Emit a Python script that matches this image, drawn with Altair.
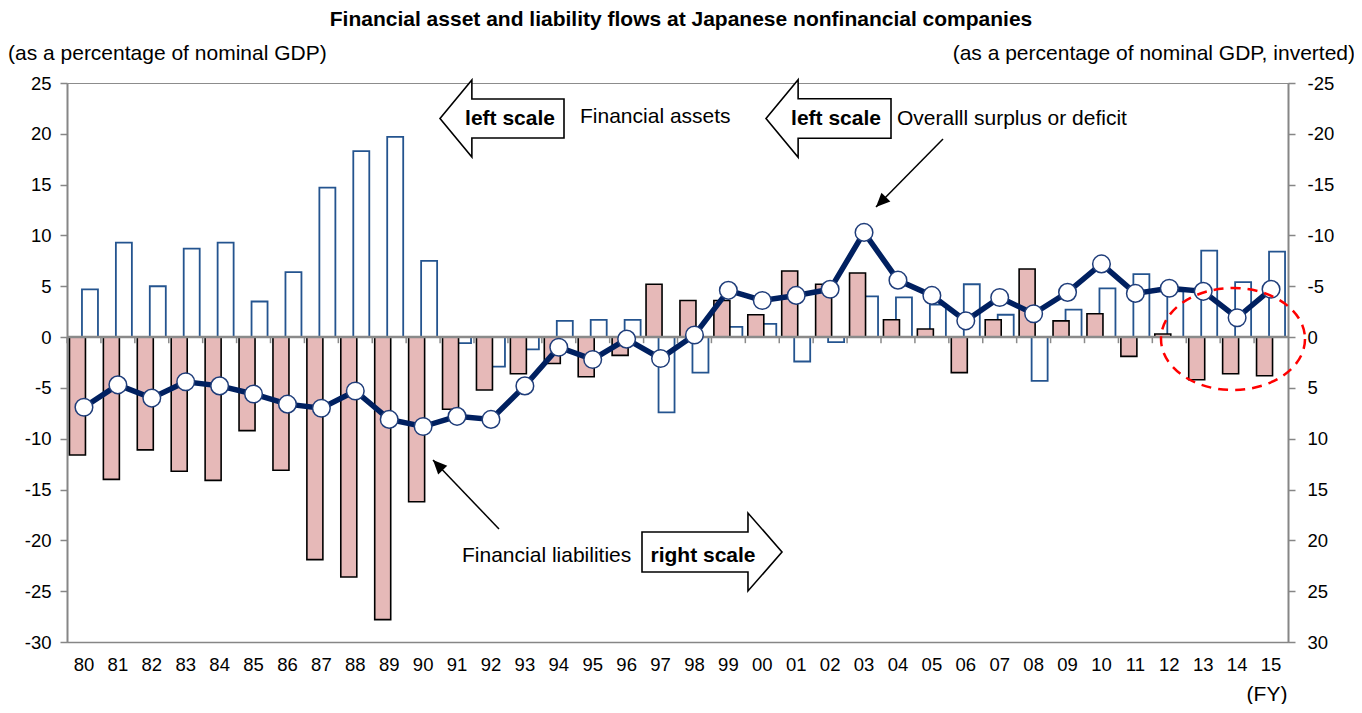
import altair as alt
import pandas as pd

# ---------------- data ----------------
years = ["80", "81", "82", "83", "84", "85", "86", "87", "88", "89",
         "90", "91", "92", "93", "94", "95", "96", "97", "98", "99",
         "00", "01", "02", "03", "04", "05", "06", "07", "08", "09",
         "10", "11", "12", "13", "14", "15"]

# Financial assets, % of nominal GDP (left scale)
assets = [4.7, 9.3, 5.0, 8.7, 9.3, 3.5, 6.4, 14.7, 18.3, 19.7,
          7.5, -0.6, -2.9, -1.2, 1.6, 1.7, 1.7, -7.4, -3.5, 1.0,
          1.3, -2.4, -0.5, 4.0, 3.9, 3.2, 5.2, 2.2, -4.3, 2.7,
          4.8, 6.2, 4.5, 8.5, 5.4, 8.4]

# Financial liabilities, % of nominal GDP (right scale, inverted)
liabilities = [11.6, 14.0, 11.1, 13.2, 14.1, 9.2, 13.1, 21.9, 23.6, 27.8,
               16.2, 7.1, 5.2, 3.6, 2.6, 3.9, 1.8, -5.2, -3.6, -3.6,
               -2.2, -6.5, -5.2, -6.3, -1.7, -0.8, 3.5, -1.7, -6.7, -1.6,
               -2.3, 1.9, -0.3, 4.2, 3.6, 3.8]

# Overall surplus or deficit (left scale)
surplus = [-6.9, -4.7, -6.0, -4.4, -4.8, -5.6, -6.6, -7.0, -5.3, -8.1,
           -8.8, -7.8, -8.1, -4.8, -1.0, -2.2, -0.2, -2.1, 0.2, 4.6,
           3.6, 4.1, 4.7, 10.3, 5.6, 4.1, 1.6, 3.9, 2.3, 4.4,
           7.2, 4.3, 4.8, 4.5, 1.9, 4.7]

left_ticks = [-30, -25, -20, -15, -10, -5, 0, 5, 10, 15, 20, 25]
right_ticks = [-25, -20, -15, -10, -5, 0, 5, 10, 15, 20, 25, 30]

df = pd.DataFrame({"year": years, "assets": assets,
                   "liabilities": liabilities, "surplus": surplus})

FONT = "Liberation Sans"
W, H = 1221, 559

xenc = alt.X("year:N", sort=years,
             scale=alt.Scale(domain=years, paddingInner=0, paddingOuter=0),
             axis=alt.Axis(orient="bottom", title=None, labelAngle=0, ticks=False,
                           labelPadding=13, labelFontSize=18.5, labelFont=FONT,
                           labelColor="black", domainColor="#868686", domainWidth=1.5))

left_scale = alt.Scale(domain=[-30, 25], nice=False)
right_scale = alt.Scale(domain=[-25, 30], nice=False, reverse=True)

base = alt.Chart(df)

blue_bars = base.mark_bar(width=16, xOffset=6, fill="white", stroke="#24548F",
                          strokeWidth=1.8).encode(
    x=xenc,
    y=alt.Y("assets:Q", scale=left_scale,
            axis=alt.Axis(orient="left", values=left_ticks, title=None, grid=False,
                          tickSize=7, tickColor="#868686", tickWidth=1.5,
                          domainColor="#868686", domainWidth=2, labelPadding=9,
                          labelExpr="'' + datum.value",
                          labelFontSize=18.5, labelFont=FONT, labelColor="black")),
)

pink_bars = base.mark_bar(width=16, xOffset=-6.5, fill="#E6B9B8", stroke="black",
                          strokeWidth=1.6).encode(
    x=alt.X("year:N", sort=years),
    y=alt.Y("liabilities:Q", scale=right_scale,
            axis=alt.Axis(orient="right", values=right_ticks, title=None, grid=False,
                          tickSize=7, tickColor="#868686", tickWidth=1.5,
                          domainColor="#868686", domainWidth=2, labelPadding=12,
                          labelExpr="'' + datum.value",
                          labelFontSize=18.5, labelFont=FONT, labelColor="black")),
)

zero_df = pd.DataFrame({"zero": [0]})
zero_line = alt.Chart(zero_df).mark_rule(color="#8a8a8a", strokeWidth=2.5).encode(
    y=alt.Y("zero:Q", scale=left_scale, axis=None)
)

tick_df = pd.DataFrame({"year": years, "y0": [0] * len(years), "y1": [-0.6] * len(years)})
zero_ticks = alt.Chart(tick_df).mark_rule(color="#8a8a8a", strokeWidth=1.5).encode(
    x=alt.X("year:N", sort=years, bandPosition=0),
    y=alt.Y("y0:Q", scale=left_scale, axis=None),
    y2="y1:Q",
)

line = base.mark_line(color="#002060", strokeWidth=5.5).encode(
    x=alt.X("year:N", sort=years),
    y=alt.Y("surplus:Q", scale=left_scale, axis=None),
)
points = base.mark_point(shape="circle", size=310, filled=True, fill="white",
                         stroke="#1F3D7A", strokeWidth=1.5, opacity=1).encode(
    x=alt.X("year:N", sort=years),
    y=alt.Y("surplus:Q", scale=left_scale, axis=None),
)

# ---------------- annotations ----------------
one = pd.DataFrame({"a": [0]})

LEFT_ARROW = ("M -1 0 L -0.486 -0.621 L -0.486 -0.315 L 1 -0.315 L 1 0.315 "
              "L -0.486 0.315 L -0.486 0.621 Z")
RIGHT_ARROW = ("M -1 -0.286 L 0.514 -0.286 L 0.514 -0.557 L 1 0 L 0.514 0.557 "
               "L 0.514 0.286 L -1 0.286 Z")
HEAD = "M 0 0 L 0.45 1 L -0.45 1 Z"
ELLIPSE = ("M 1 0 C 1 0.391 0.552 0.708 0 0.708 C -0.552 0.708 -1 0.391 -1 0 "
           "C -1 -0.391 -0.552 -0.708 0 -0.708 C 0.552 -0.708 1 -0.391 1 0 Z")


def block(path, x, y, size):
    return alt.Chart(one).mark_point(shape=path, size=size, filled=True, fill="white",
                                     stroke="black", strokeWidth=1.6, opacity=1).encode(
        x=alt.value(x), y=alt.value(y))


def label(text, x, y, align="left", bold=False, size=21):
    return alt.Chart(one).mark_text(text=text, align=align, baseline="alphabetic",
                                    font=FONT, fontSize=size, color="black",
                                    fontWeight="bold" if bold else "normal").encode(
        x=alt.value(x), y=alt.value(y))


def thin_arrow(x0, y0, x1, y1, angle):
    shaft = alt.Chart(one).mark_rule(color="black", strokeWidth=1.5).encode(
        x=alt.value(x0), y=alt.value(y0), x2=alt.value(x1), y2=alt.value(y1))
    head = alt.Chart(one).mark_point(shape=HEAD, size=784, filled=True, fill="black",
                                     strokeWidth=0, opacity=1, angle=angle).encode(
        x=alt.value(x1), y=alt.value(y1))
    return shaft + head


ann = [
    block(LEFT_ARROW, 435, 35.5, 15376),
    label("left scale", 443, 42, align="center", bold=True),
    label("Financial assets", 513, 40),
    block(LEFT_ARROW, 761.5, 35.5, 15625),
    label("left scale", 769, 42, align="center", bold=True),
    label("Overalll surplus or deficit", 830, 42),
    thin_arrow(876, 56, 809, 124, 225),
    thin_arrow(432, 446, 366, 377, 316),
    label("Financial liabilities", 395, 479),
    block(RIGHT_ARROW, 645, 469, 19600),
    label("right scale", 636, 479, align="center", bold=True),
    alt.Chart(one).mark_point(shape=ELLIPSE, size=20736, filled=False, color="#FF0000",
                              strokeWidth=2.5, strokeDash=[10, 7], opacity=1).encode(
        x=alt.value(1166), y=alt.value(256)),
    label("Financial asset and liability flows at Japanese nonfinancial companies",
          614, -57, align="center", bold=True),
    label("(as a percentage of nominal GDP)", -59, -23),
    label("(as a percentage of  nominal GDP, inverted)", 1288, -23, align="right"),
    label("(FY)", 1200, 618, align="center"),
]

chart = alt.layer(blue_bars, pink_bars, zero_line, zero_ticks, line, points, *ann).resolve_scale(
    y="independent"
).properties(
    width=W, height=H,
    autosize=alt.AutoSizeParams(type="none"),
    padding={"left": 59, "top": 75, "right": 66, "bottom": 62},
).configure_view(stroke="#8c8c8c", strokeWidth=1)

chart.save("out.html", embed_options={"renderer": "svg", "actions": False})
